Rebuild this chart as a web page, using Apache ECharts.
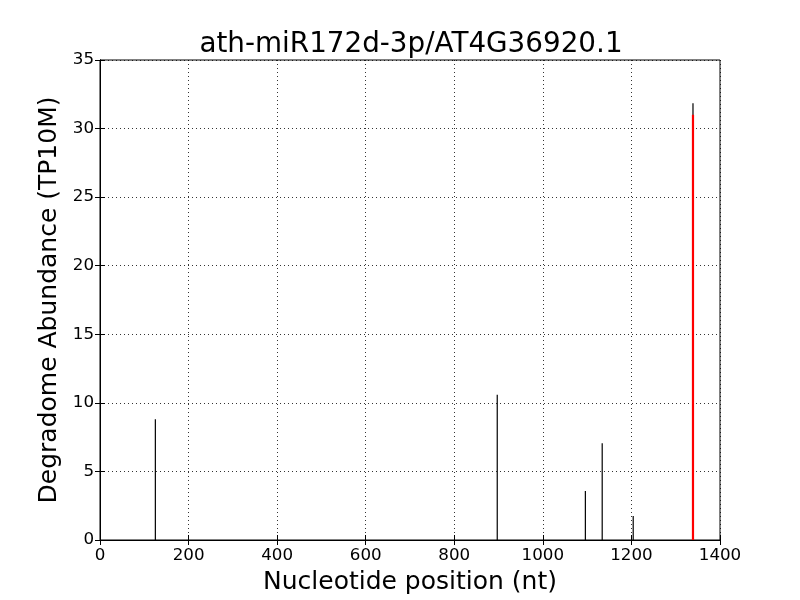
<!DOCTYPE html>
<html>
<head>
<meta charset="utf-8">
<script src="https://cdn.jsdelivr.net/npm/echarts@6/dist/echarts.min.js"></script>
<style>html,body{margin:0;padding:0;background:#fff}#c{width:800px;height:600px}</style>
</head>
<body>
<div id="c"></div>
<script>
const titleText = 'ath-miR172d-3p/AT4G36920.1';
const xLabel = 'Nucleotide position (nt)';
const yLabel = 'Degradome Abundance (TP10M)';
const positions = [125, 897, 1096, 1134, 1204, 1339];
const abundance = [8.8, 10.6, 3.57, 7.05, 1.75, 31.85];
const cleavagePositions = [1339];
const cleavageAbundance = [31.0];
const xTicks = [0, 200, 400, 600, 800, 1000, 1200, 1400];
const yTicks = [0, 5, 10, 15, 20, 25, 30, 35];

const FONT = 'DejaVu Sans';
const chart = echarts.init(document.getElementById('c'), null, {renderer: 'canvas'});

function stems(color, width) {
  return function (params, api) {
    const x = api.value(0), y = api.value(1);
    const p0 = api.coord([x, 0]);
    const p1 = api.coord([x, y]);
    return {
      type: 'line',
      shape: {x1: p0[0], y1: p0[1], x2: p1[0], y2: p1[1]},
      style: {stroke: color, lineWidth: width}
    };
  };
}

const tickAxisCommon = {
  axisLine: {show: true, lineStyle: {color: '#000', width: 1}},
  axisTick: {show: true, inside: true, length: 5, lineStyle: {color: '#000', width: 1}},
};

chart.setOption({
  animation: false,
  backgroundColor: '#fff',
  title: {
    text: titleText, left: 406, top: 26, textAlign: 'center',
    textStyle: {fontFamily: FONT, fontSize: 27.8, fontWeight: 'normal', color: '#000'}
  },
  grid: {left: 100, right: 80, top: 60, bottom: 60, show: true, borderColor: '#000', borderWidth: 1},
  xAxis: [{
    type: 'value', min: xTicks[0], max: xTicks[xTicks.length - 1], interval: 200,
    position: 'bottom',
    name: xLabel, nameLocation: 'middle', nameGap: 30,
    nameTextStyle: {fontFamily: FONT, fontSize: 25, color: '#000'},
    axisLabel: {fontFamily: FONT, fontSize: 16.7, color: '#000', margin: 7, formatter: v => String(v)},
    splitLine: {show: true, lineStyle: {color: '#000', width: 0.8, type: [1, 3]}},
    ...tickAxisCommon
  }, {
    type: 'value', min: xTicks[0], max: xTicks[xTicks.length - 1], interval: 200,
    position: 'top', axisLabel: {show: false}, splitLine: {show: false},
    ...tickAxisCommon
  }],
  yAxis: [{
    type: 'value', min: yTicks[0], max: yTicks[yTicks.length - 1], interval: 5,
    position: 'left',
    name: yLabel, nameLocation: 'middle', nameGap: 31,
    nameTextStyle: {fontFamily: FONT, fontSize: 25, color: '#000'},
    axisLabel: {fontFamily: FONT, fontSize: 16.7, color: '#000', margin: 6, formatter: v => String(v)},
    splitLine: {show: true, lineStyle: {color: '#000', width: 0.8, type: [1, 3]}},
    ...tickAxisCommon
  }, {
    type: 'value', min: yTicks[0], max: yTicks[yTicks.length - 1], interval: 5,
    position: 'right', axisLabel: {show: false}, splitLine: {show: false},
    ...tickAxisCommon
  }],
  series: [{
    type: 'custom', renderItem: stems('#000', 1.2),
    data: positions.map((p, i) => [p, abundance[i]]), clip: true, z: 2
  }, {
    type: 'custom', renderItem: stems('#ff0000', 2.2),
    data: cleavagePositions.map((p, i) => [p, cleavageAbundance[i]]), clip: true, z: 3
  }]
});
</script>
</body>
</html>
